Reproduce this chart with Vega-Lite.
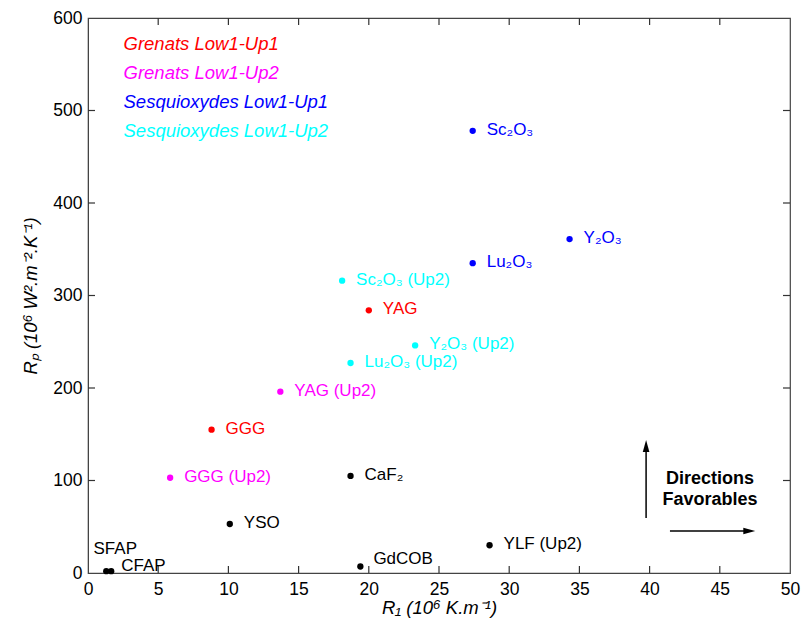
{
  "$schema": "https://vega.github.io/schema/vega-lite/v6.json",
  "width": 702,
  "height": 555,
  "autosize": {"type": "none"},
  "padding": {"left": 88, "top": 18, "right": 11, "bottom": 57},
  "background": "white",
  "config": {
    "font": "Liberation Sans",
    "view": {"stroke": "#444", "strokeWidth": 1.2},
    "axis": {
      "grid": false,
      "ticks": false,
      "domainColor": "#444",
      "labelColor": "black",
      "titleColor": "black",
      "labelFontSize": 17.5,
      "titleFontSize": 18.5,
      "titleFontWeight": "normal",
      "titleFontStyle": "italic",
      "labelFont": "Liberation Sans",
      "titleFont": "Liberation Sans"
    }
  },
  "datasets": {
    "pts": [
      {"nom": "Sc2O3", "label": "Sc₂O₃", "groupe": "Sesquioxydes Low1-Up1", "r1": 27.4, "rp": 478},
      {"nom": "Y2O3", "label": "Y₂O₃", "groupe": "Sesquioxydes Low1-Up1", "r1": 34.3, "rp": 361},
      {"nom": "Lu2O3", "label": "Lu₂O₃", "groupe": "Sesquioxydes Low1-Up1", "r1": 27.4, "rp": 335},
      {"nom": "Sc2O3 Up2", "label": "Sc₂O₃ (Up2)", "groupe": "Sesquioxydes Low1-Up2", "r1": 18.1, "rp": 316},
      {"nom": "Y2O3 Up2", "label": "Y₂O₃ (Up2)", "groupe": "Sesquioxydes Low1-Up2", "r1": 23.3, "rp": 246},
      {"nom": "Lu2O3 Up2", "label": "Lu₂O₃ (Up2)", "groupe": "Sesquioxydes Low1-Up2", "r1": 18.7, "rp": 227},
      {"nom": "YAG", "label": "YAG", "groupe": "Grenats Low1-Up1", "r1": 20.0, "rp": 284},
      {"nom": "GGG", "label": "GGG", "groupe": "Grenats Low1-Up1", "r1": 8.8, "rp": 155},
      {"nom": "YAG Up2", "label": "YAG (Up2)", "groupe": "Grenats Low1-Up2", "r1": 13.7, "rp": 196},
      {"nom": "GGG Up2", "label": "GGG (Up2)", "groupe": "Grenats Low1-Up2", "r1": 5.85, "rp": 103},
      {"nom": "CaF2", "label": "CaF₂", "groupe": "Autres", "r1": 18.7, "rp": 105},
      {"nom": "YSO", "label": "YSO", "groupe": "Autres", "r1": 10.1, "rp": 53},
      {"nom": "YLF Up2", "label": "YLF (Up2)", "groupe": "Autres", "r1": 28.6, "rp": 30},
      {"nom": "GdCOB", "label": "GdCOB", "groupe": "Autres", "r1": 19.4, "rp": 7},
      {"nom": "SFAP", "label": "SFAP", "groupe": "Autres", "r1": 1.3, "rp": 2},
      {"nom": "CFAP", "label": "CFAP", "groupe": "Autres", "r1": 1.65, "rp": 2}
    ],
    "gradx": [
      {"v": 5}, {"v": 10}, {"v": 15}, {"v": 20}, {"v": 25}, {"v": 30}, {"v": 35}, {"v": 40}, {"v": 45}
    ],
    "grady": [
      {"v": 100}, {"v": 200}, {"v": 300}, {"v": 400}, {"v": 500}
    ],
    "fleches": [
      {"sens": "haut", "x": 39.75, "y": 59.5, "x2": 39.75, "y2": 138},
      {"sens": "droite", "x": 41.45, "y": 45.4, "x2": 47.0, "y2": 45.4}
    ],
    "pointes": [
      {"sens": "haut", "x": 39.75, "y": 137.3},
      {"sens": "droite", "x": 47.1, "y": 45.4}
    ],
    "note": [
      {"texte": "Directions\nFavorables", "x": 44.3, "y": 102}
    ]
  },
  "layer": [
    {
      "data": {"name": "pts"},
      "mark": {"type": "point", "filled": true, "opacity": 1, "size": 40},
      "encoding": {
        "x": {
          "field": "r1", "type": "quantitative",
          "scale": {"domain": [0, 50], "nice": false, "zero": false},
          "axis": {"orient": "bottom", "values": [0,5,10,15,20,25,30,35,40,45,50], "labelPadding": 7, "title": "R₁ (10⁶ K.m⁻¹)", "titlePadding": 1, "labelFlush": false}
        },
        "y": {
          "field": "rp", "type": "quantitative",
          "scale": {"domain": [0, 600], "nice": false},
          "axis": {"orient": "left", "values": [0,100,200,300,400,500,600], "labelPadding": 6, "title": "Rₚ (10⁶ W².m⁻².K⁻¹)", "titlePadding": 12, "labelFlush": false}
        },
        "color": {
          "field": "groupe", "type": "nominal",
          "scale": {
            "domain": ["Grenats Low1-Up1", "Grenats Low1-Up2", "Sesquioxydes Low1-Up1", "Sesquioxydes Low1-Up2", "Autres"],
            "range": ["#ff0000", "#ff00ff", "#0000ff", "#00ffff", "#000000"]
          },
          "legend": {
            "orient": "none",
            "legendX": 13,
            "legendY": 17,
            "title": null,
            "values": ["Grenats Low1-Up1", "Grenats Low1-Up2", "Sesquioxydes Low1-Up1", "Sesquioxydes Low1-Up2"],
            "symbolSize": 0,
            "symbolOpacity": 0,
            "symbolStrokeWidth": 0,
            "labelFontSize": 18.5,
            "labelFontStyle": "italic",
            "labelFont": "Liberation Sans",
            "labelLimit": 400,
            "rowPadding": 10,
            "labelOffset": 4,
            "encode": {"labels": {"update": {"fill": {"scale": "color", "field": "value"}}}}
          }
        }
      }
    },
    {
      "data": {"name": "gradx"},
      "mark": {"type": "rule", "color": "#333", "strokeWidth": 1.2},
      "encoding": {
        "x": {"field": "v", "type": "quantitative"},
        "y": {"datum": 0, "type": "quantitative"},
        "y2": {"datum": 7.6}
      }
    },
    {
      "data": {"name": "gradx"},
      "mark": {"type": "rule", "color": "#333", "strokeWidth": 1.2},
      "encoding": {
        "x": {"field": "v", "type": "quantitative"},
        "y": {"datum": 600, "type": "quantitative"},
        "y2": {"datum": 592.4}
      }
    },
    {
      "data": {"name": "grady"},
      "mark": {"type": "rule", "color": "#333", "strokeWidth": 1.2},
      "encoding": {
        "y": {"field": "v", "type": "quantitative"},
        "x": {"datum": 0, "type": "quantitative"},
        "x2": {"datum": 0.5}
      }
    },
    {
      "data": {"name": "grady"},
      "mark": {"type": "rule", "color": "#333", "strokeWidth": 1.2},
      "encoding": {
        "y": {"field": "v", "type": "quantitative"},
        "x": {"datum": 50, "type": "quantitative"},
        "x2": {"datum": 49.5}
      }
    },
    {
      "data": {"name": "pts"},
      "transform": [{"filter": "datum.nom != 'SFAP' && datum.nom != 'CFAP' && datum.nom != 'GdCOB'"}],
      "mark": {"type": "text", "align": "left", "baseline": "middle", "dx": 14, "dy": -1, "fontSize": 17},
      "encoding": {
        "x": {"field": "r1", "type": "quantitative"},
        "y": {"field": "rp", "type": "quantitative"},
        "text": {"field": "label"},
        "color": {"field": "groupe", "type": "nominal"}
      }
    },
    {
      "data": {"name": "pts"},
      "transform": [{"filter": "datum.nom == 'SFAP'"}],
      "mark": {"type": "text", "align": "center", "baseline": "middle", "dx": 9, "dy": -22, "fontSize": 17},
      "encoding": {
        "x": {"field": "r1", "type": "quantitative"},
        "y": {"field": "rp", "type": "quantitative"},
        "text": {"field": "label"},
        "color": {"field": "groupe", "type": "nominal"}
      }
    },
    {
      "data": {"name": "pts"},
      "transform": [{"filter": "datum.nom == 'CFAP'"}],
      "mark": {"type": "text", "align": "left", "baseline": "middle", "dx": 10, "dy": -5, "fontSize": 17},
      "encoding": {
        "x": {"field": "r1", "type": "quantitative"},
        "y": {"field": "rp", "type": "quantitative"},
        "text": {"field": "label"},
        "color": {"field": "groupe", "type": "nominal"}
      }
    },
    {
      "data": {"name": "pts"},
      "transform": [{"filter": "datum.nom == 'GdCOB'"}],
      "mark": {"type": "text", "align": "left", "baseline": "middle", "dx": 13, "dy": -8, "fontSize": 17},
      "encoding": {
        "x": {"field": "r1", "type": "quantitative"},
        "y": {"field": "rp", "type": "quantitative"},
        "text": {"field": "label"},
        "color": {"field": "groupe", "type": "nominal"}
      }
    },
    {
      "data": {"name": "fleches"},
      "mark": {"type": "rule", "color": "black", "strokeWidth": 1.5},
      "encoding": {
        "x": {"field": "x", "type": "quantitative"},
        "y": {"field": "y", "type": "quantitative"},
        "x2": {"field": "x2"},
        "y2": {"field": "y2"}
      }
    },
    {
      "data": {"name": "pointes"},
      "transform": [{"filter": "datum.sens == 'haut'"}],
      "mark": {"type": "point", "filled": true, "opacity": 1, "color": "black", "shape": "M0,-1L0.55,1L-0.55,1Z", "size": 144},
      "encoding": {
        "x": {"field": "x", "type": "quantitative"},
        "y": {"field": "y", "type": "quantitative"}
      }
    },
    {
      "data": {"name": "pointes"},
      "transform": [{"filter": "datum.sens == 'droite'"}],
      "mark": {"type": "point", "filled": true, "opacity": 1, "color": "black", "shape": "M1,0L-1,0.55L-1,-0.55Z", "size": 144},
      "encoding": {
        "x": {"field": "x", "type": "quantitative"},
        "y": {"field": "y", "type": "quantitative"}
      }
    },
    {
      "data": {"name": "note"},
      "mark": {"type": "text", "align": "center", "baseline": "middle", "fontSize": 18, "fontWeight": "bold", "lineBreak": "\n", "lineHeight": 21, "color": "black"},
      "encoding": {
        "x": {"field": "x", "type": "quantitative"},
        "y": {"field": "y", "type": "quantitative"},
        "text": {"field": "texte"}
      }
    }
  ]
}
